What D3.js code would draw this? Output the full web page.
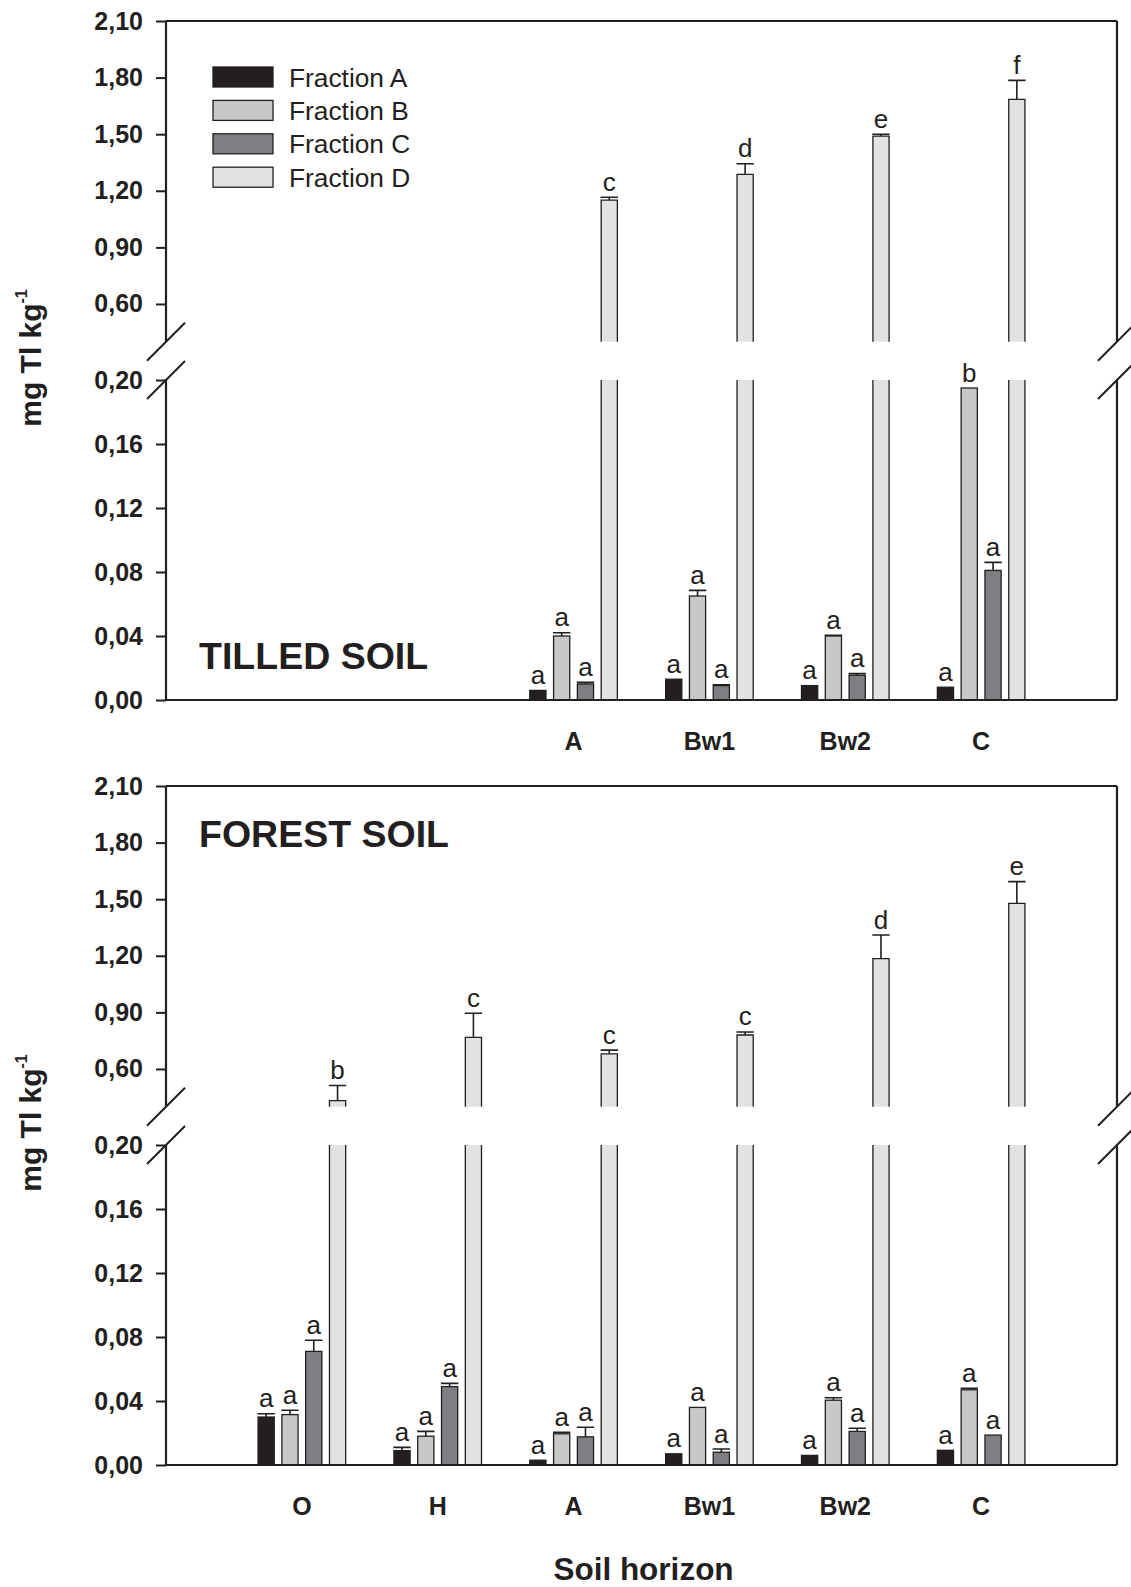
<!DOCTYPE html>
<html><head><meta charset="utf-8">
<script src="https://cdn.jsdelivr.net/npm/d3@7"></script>
<style>
body{margin:0;background:#fff}
svg{display:block}
text{font-family:"Liberation Sans",Arial,Helvetica,sans-serif;fill:#231f20}
</style>
</head><body>
<svg id="c" width="1131" height="1587"></svg>
<script>
// ---------- data ----------
const horizons = ["O","H","A","Bw1","Bw2","C"];
const fractions = ["Fraction A","Fraction B","Fraction C","Fraction D"];
const lowTicks = [0,0.04,0.08,0.12,0.16,0.20];
const highTicks = [0.60,0.90,1.20,1.50,1.80,2.10];

// Tilled soil (O and H horizons absent)
const tilledA    = [null,null,0.006,0.013,0.009,0.008];
const tilledB    = [null,null,0.040,0.065,0.040,0.195];
const tilledC    = [null,null,0.010,0.009,0.0155,0.081];
const tilledD    = [null,null,1.15,1.287,1.49,1.685];
const tilledAErr = [null,null,0,0,0,0];
const tilledBErr = [null,null,0.002,0.0035,0.0005,0];
const tilledCErr = [null,null,0.001,0.0005,0.001,0.005];
const tilledDErr = [null,null,0.016,0.056,0.01,0.10];
const tilledALet = [null,null,"a","a","a","a"];
const tilledBLet = [null,null,"a","a","a","b"];
const tilledCLet = [null,null,"a","a","a","a"];
const tilledDLet = [null,null,"c","d","e","f"];

// Forest soil
const forestA    = [0.030,0.009,0.003,0.007,0.006,0.0092];
const forestB    = [0.0315,0.018,0.0195,0.036,0.0405,0.047];
const forestC    = [0.071,0.049,0.0176,0.008,0.021,0.0187];
const forestD    = [0.432,0.768,0.68,0.78,1.185,1.478];
const forestAErr = [0.002,0.002,0,0,0,0];
const forestBErr = [0.0027,0.003,0.001,0,0.0015,0.001];
const forestCErr = [0.007,0.002,0.006,0.002,0.002,0];
const forestDErr = [0.08,0.127,0.02,0.016,0.125,0.115];
const forestALet = ["a","a","a","a","a","a"];
const forestBLet = ["a","a","a","a","a","a"];
const forestCLet = ["a","a","a","a","a","a"];
const forestDLet = ["b","c","c","c","d","e"];

const fills = ["#231f20","#c7c8c9","#7e7f82","#e1e2e3"];
const ink = "#231f20";

// ---------- layout ----------
const svg = d3.select("#c");
const X0 = 166, X1 = 1117;
const slot = (X1 - X0) / 7;
const xGroup = d3.scaleBand().domain(horizons).range([X0 + slot/2, X1 - slot/2]).padding(0);
const xInner = d3.scaleBand().domain(fractions).range([-47.6, 47.6]).paddingInner(0.32).paddingOuter(0.16);
const fmt = d => d.toFixed(2).replace(".", ",");

function panel(oy, vals, errs, lets, title, titleY, legend) {
  const T = oy + 21, BT = oy + 341.7, BB = oy + 380, BASE = oy + 700;
  const yLow = d3.scaleLinear().domain([0, 0.20]).range([BASE, BB]);
  const yHigh = d3.scaleLinear().domain([0.40, 2.10]).range([BT, T]);
  const g = svg.append("g");

  // axes ticks
  const axL = d3.axisLeft(yLow).tickValues(lowTicks).tickSize(10).tickPadding(13).tickFormat(fmt);
  const axH = d3.axisLeft(yHigh).tickValues(highTicks).tickSize(10).tickPadding(13).tickFormat(fmt);
  [axL, axH].forEach(ax => {
    const a = g.append("g").attr("transform", `translate(${X0},0)`).call(ax);
    a.select(".domain").remove();
    a.selectAll("line").attr("stroke", ink).attr("stroke-width", 2);
    a.selectAll("text").attr("font-size", 25).attr("font-weight", "bold")
      .attr("font-family", '"Liberation Sans",Arial,sans-serif').attr("fill", ink);
  });

  // bars
  vals.forEach((arr, j) => {
    arr.forEach((v, i) => {
      if (v == null) return;
      const h = horizons[i], f = fractions[j];
      const bx = xGroup(h) + xGroup.bandwidth()/2 + xInner(f);
      const w = xInner.bandwidth();
      const cx = bx + w/2;
      let yTopBar;
      if (v <= 0.20) {
        yTopBar = yLow(v);
        g.append("rect").attr("x", bx).attr("y", yTopBar).attr("width", w).attr("height", BASE - yTopBar)
          .attr("fill", fills[j]).attr("stroke", ink).attr("stroke-width", 1.3);
      } else {
        yTopBar = yHigh(v);
        g.append("rect").attr("x", bx).attr("y", BB).attr("width", w).attr("height", BASE - BB).attr("fill", fills[j]);
        g.append("path").attr("d", `M${bx},${BB}V${BASE}M${bx+w},${BB}V${BASE}`).attr("stroke", ink).attr("stroke-width", 1.3).attr("fill", "none");
        g.append("rect").attr("x", bx).attr("y", yTopBar).attr("width", w).attr("height", BT - yTopBar).attr("fill", fills[j]);
        g.append("path").attr("d", `M${bx},${BT}V${yTopBar}H${bx+w}V${BT}`).attr("stroke", ink).attr("stroke-width", 1.3).attr("fill", "none");
      }
      const e = errs[j][i] || 0;
      let yTop = yTopBar;
      if (e > 0) {
        const ve = v + e;
        yTop = v <= 0.20 ? yLow(ve) : yHigh(ve);
        g.append("path").attr("d", `M${cx},${yTopBar}V${yTop}M${bx-0.6},${yTop}H${bx+w+0.6}`)
          .attr("stroke", ink).attr("stroke-width", 1.6).attr("fill", "none");
      }
      const L = lets[j][i];
      if (L) g.append("text").attr("x", cx).attr("y", yTop - 6.5).attr("text-anchor", "middle")
        .attr("font-size", 26).text(L);
    });
  });

  // frame lines
  const line = d => g.append("path").attr("d", d).attr("stroke", ink).attr("stroke-width", 2.2).attr("fill", "none");
  line(`M${X0},${T}H${X1}`);
  line(`M${X0},${BASE}H${X1}`);
  [X0, X1].forEach(x => {
    line(`M${x},${T}V${BT}M${x},${BB}V${BASE}`);
    g.append("path").attr("d", `M${x-19},${BT+19}L${x+19},${BT-19}M${x-19},${BB+19}L${x+19},${BB-19}`)
      .attr("stroke", ink).attr("stroke-width", 2).attr("fill", "none");
  });

  // category labels
  horizons.forEach((h, i) => {
    if (vals.every(a => a[i] == null)) return;
    g.append("text").attr("x", xGroup(h) + xGroup.bandwidth()/2).attr("y", BASE + 50)
      .attr("text-anchor", "middle").attr("font-size", 25).attr("font-weight", "bold").text(h);
  });

  // title
  g.append("text").attr("x", 199).attr("y", oy + titleY).attr("font-size", 37.5).attr("font-weight", "bold").text(title);

  // y label
  const yl = g.append("text").attr("transform", `translate(41,${oy + 358}) rotate(-90)`)
    .attr("text-anchor", "middle").attr("font-size", 30).attr("font-weight", "bold");
  yl.append("tspan").text("mg Tl kg");
  yl.append("tspan").attr("dy", -14).attr("font-size", 16).text("-1");

  // legend
  if (legend) {
    fractions.forEach((f, j) => {
      const y = oy + 67 + j * 33.4;
      g.append("rect").attr("x", 213).attr("y", y).attr("width", 60).attr("height", 20)
        .attr("fill", fills[j]).attr("stroke", ink).attr("stroke-width", 1.3);
      g.append("text").attr("x", 289).attr("y", y + 19.5).attr("font-size", 26.3).text(f);
    });
  }
}

panel(0, [tilledA, tilledB, tilledC, tilledD], [tilledAErr, tilledBErr, tilledCErr, tilledDErr],
      [tilledALet, tilledBLet, tilledCLet, tilledDLet], "TILLED SOIL", 669, true);
panel(765, [forestA, forestB, forestC, forestD], [forestAErr, forestBErr, forestCErr, forestDErr],
      [forestALet, forestBLet, forestCLet, forestDLet], "FOREST SOIL", 82, false);

svg.append("text").attr("x", (X0 + X1)/2 + 2).attr("y", 1580).attr("text-anchor", "middle")
  .attr("font-size", 31.5).attr("font-weight", "bold").text("Soil horizon");
</script>
</body></html>
